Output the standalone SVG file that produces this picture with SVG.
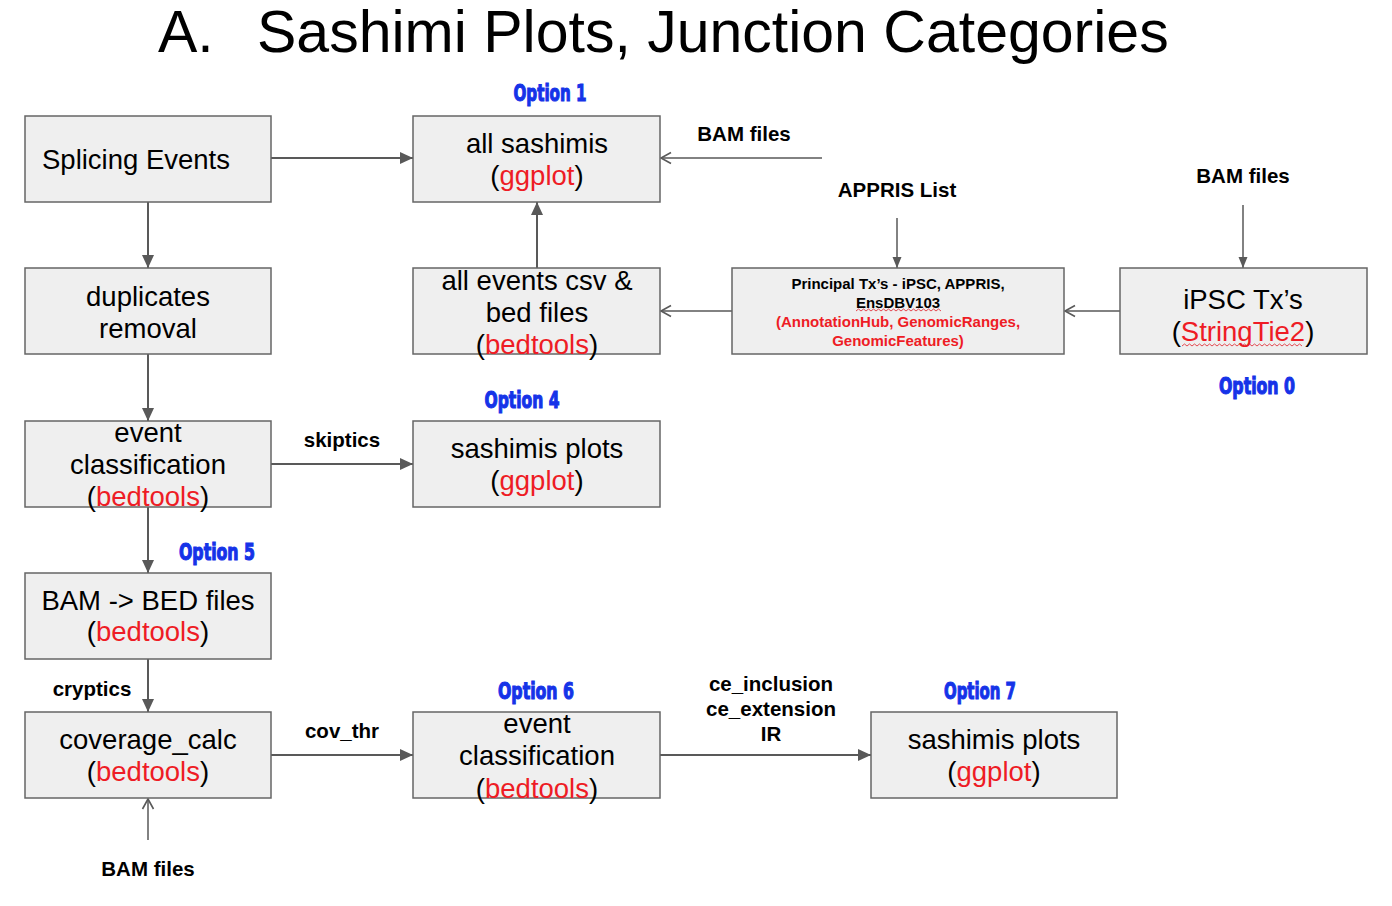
<svg xmlns="http://www.w3.org/2000/svg" width="1392" height="906" viewBox="0 0 1392 906">
<style>
.box{fill:#efefef;stroke:#666;stroke-width:1.5}
.t{font-family:"Liberation Sans",Arial,sans-serif;font-size:27.5px;fill:#000;text-anchor:middle}
.r{fill:#ee1c25}
.lbl{font-family:"Liberation Sans",Arial,sans-serif;font-size:20.5px;font-weight:bold;fill:#000;text-anchor:middle}
.opt{font-family:"Liberation Sans Narrow","DejaVu Sans Condensed","Liberation Sans",sans-serif;font-size:23px;font-weight:bold;fill:#1533e8;stroke:#1533e8;stroke-width:1.1;text-anchor:middle}
.small{font-family:"Liberation Sans",Arial,sans-serif;font-size:15px;font-weight:bold;text-anchor:middle}
.c{fill:none;stroke:#595959;stroke-width:2}
.ct{fill:none;stroke:#595959;stroke-width:1.5}
.wave{fill:none;stroke:#e0202a;stroke-width:0.8}
</style>
<defs>
<marker id="af" markerUnits="userSpaceOnUse" markerWidth="14" markerHeight="14" viewBox="0 0 14 14" refX="13" refY="7" orient="auto">
<path d="M0,1 L13,7 L0,13 z" fill="#595959"/>
</marker>
<marker id="ao" markerUnits="userSpaceOnUse" markerWidth="14" markerHeight="14" viewBox="0 0 14 14" refX="12" refY="7" orient="auto">
<path d="M2,1.5 L12,7 L2,12.5" fill="none" stroke="#595959" stroke-width="1.6"/>
</marker>
<marker id="as" markerUnits="userSpaceOnUse" markerWidth="12" markerHeight="12" viewBox="0 0 12 12" refX="11" refY="6" orient="auto">
<path d="M0,1.5 L11,6 L0,10.5 z" fill="#595959"/>
</marker>
</defs>
<rect width="1392" height="906" fill="#fff"/>

<g id="title" font-family="'Liberation Sans',Arial,sans-serif" font-size="59">
<text x="158" y="52">A.</text>
<text x="257" y="52">Sashimi Plots, Junction Categories</text>
</g>

<g id="connectors">
<line class="c" x1="271" y1="158" x2="413" y2="158" marker-end="url(#af)"/>
<line class="ct" x1="822" y1="158" x2="661" y2="158" marker-end="url(#ao)"/>
<line class="c" x1="537" y1="268" x2="537" y2="202" marker-end="url(#af)"/>
<line class="ct" x1="732" y1="311" x2="661" y2="311" marker-end="url(#ao)"/>
<line class="ct" x1="1120" y1="311" x2="1065" y2="311" marker-end="url(#ao)"/>
<line class="ct" x1="897" y1="218" x2="897" y2="268" marker-end="url(#as)"/>
<line class="ct" x1="1243" y1="205" x2="1243" y2="268" marker-end="url(#as)"/>
<line class="c" x1="148" y1="202" x2="148" y2="268" marker-end="url(#af)"/>
<line class="c" x1="148" y1="354" x2="148" y2="421" marker-end="url(#af)"/>
<line class="c" x1="271" y1="464" x2="413" y2="464" marker-end="url(#af)"/>
<line class="c" x1="148" y1="507" x2="148" y2="573" marker-end="url(#af)"/>
<line class="c" x1="148" y1="659" x2="148" y2="712" marker-end="url(#af)"/>
<line class="c" x1="271" y1="755" x2="413" y2="755" marker-end="url(#af)"/>
<line class="c" x1="660" y1="755" x2="871" y2="755" marker-end="url(#af)"/>
<line class="ct" x1="148" y1="840" x2="148" y2="799" marker-end="url(#ao)"/>
<text class="lbl" x="744" y="141">BAM files</text>
<text class="lbl" x="897" y="197">APPRIS List</text>
<text class="lbl" x="1243" y="183">BAM files</text>
<text class="lbl" x="342" y="447">skiptics</text>
<text class="lbl" x="92" y="696">cryptics</text>
<text class="lbl" x="342" y="738">cov_thr</text>
<text class="lbl" x="771" y="691">ce_inclusion</text>
<text class="lbl" x="771" y="716">ce_extension</text>
<text class="lbl" x="771" y="741">IR</text>
<text class="lbl" x="148" y="876">BAM files</text>
</g>

<g id="options">
<text class="opt" x="550" y="101" textLength="73" lengthAdjust="spacingAndGlyphs">Option 1</text>
<text class="opt" x="522" y="408" textLength="75" lengthAdjust="spacingAndGlyphs">Option 4</text>
<text class="opt" x="217" y="560" textLength="76" lengthAdjust="spacingAndGlyphs">Option 5</text>
<text class="opt" x="1257" y="394" textLength="76" lengthAdjust="spacingAndGlyphs">Option 0</text>
<text class="opt" x="536" y="699" textLength="76" lengthAdjust="spacingAndGlyphs">Option 6</text>
<text class="opt" x="980" y="699" textLength="72" lengthAdjust="spacingAndGlyphs">Option 7</text>
</g>

<g id="splicing-events">
<rect class="box" x="25" y="116" width="246" height="86"/>
<text class="t" x="42" y="169" style="text-anchor:start">Splicing Events</text>
</g>

<g id="all-sashimis">
<rect class="box" x="413" y="116" width="247" height="86"/>
<text class="t" x="537" y="153">all sashimis</text>
<text class="t" x="537" y="185">(<tspan class="r">ggplot</tspan>)</text>
</g>

<g id="duplicates-removal">
<rect class="box" x="25" y="268" width="246" height="86"/>
<text class="t" x="148" y="306">duplicates</text>
<text class="t" x="148" y="338">removal</text>
</g>

<g id="all-events">
<rect class="box" x="413" y="268" width="247" height="86"/>
<text class="t" x="537" y="290">all events csv &amp;</text>
<text class="t" x="537" y="322">bed files</text>
<text class="t" x="537" y="354">(<tspan class="r">bedtools</tspan>)</text>
</g>

<g id="principal-tx">
<rect class="box" x="732" y="268" width="332" height="86"/>
<text class="small" x="898" y="289">Principal Tx’s - iPSC, APPRIS,</text>
<text class="small" x="898" y="308">EnsDBV103</text>
<path class="wave" d="M856,311 l2.5,-2 l2.5,2 l2.5,-2 l2.5,2 l2.5,-2 l2.5,2 l2.5,-2 l2.5,2 l2.5,-2 l2.5,2 l2.5,-2 l2.5,2 l2.5,-2 l2.5,2 l2.5,-2 l2.5,2 l2.5,-2 l2.5,2 l2.5,-2 l2.5,2 l2.5,-2 l2.5,2 l2.5,-2 l2.5,2 l2.5,-2 l2.5,2 l2.5,-2 l2.5,2 l2.5,-2 l2.5,2 l2.5,-2 l2.5,2 l2.5,-2 l2.5,2"/>
<text class="small r" x="898" y="327">(AnnotationHub, GenomicRanges,</text>
<text class="small r" x="898" y="346">GenomicFeatures)</text>
</g>

<g id="ipsc-tx">
<rect class="box" x="1120" y="268" width="247" height="86"/>
<text class="t" x="1243" y="309">iPSC Tx’s</text>
<text class="t" x="1243" y="341">(<tspan class="r">StringTie2</tspan>)</text>
<path class="wave" d="M1182,346 l2.5,-2 l2.5,2 l2.5,-2 l2.5,2 l2.5,-2 l2.5,2 l2.5,-2 l2.5,2 l2.5,-2 l2.5,2 l2.5,-2 l2.5,2 l2.5,-2 l2.5,2 l2.5,-2 l2.5,2 l2.5,-2 l2.5,2 l2.5,-2 l2.5,2 l2.5,-2 l2.5,2 l2.5,-2 l2.5,2 l2.5,-2 l2.5,2 l2.5,-2 l2.5,2 l2.5,-2 l2.5,2 l2.5,-2 l2.5,2 l2.5,-2 l2.5,2 l2.5,-2 l2.5,2 l2.5,-2 l2.5,2 l2.5,-2 l2.5,2 l2.5,-2 l2.5,2 l2.5,-2 l2.5,2 l2.5,-2 l2.5,2 l2.5,-2 l2.5,2"/>
</g>

<g id="event-classification-1">
<rect class="box" x="25" y="421" width="246" height="86"/>
<text class="t" x="148" y="442">event</text>
<text class="t" x="148" y="474">classification</text>
<text class="t" x="148" y="506">(<tspan class="r">bedtools</tspan>)</text>
</g>

<g id="sashimis-plots-4">
<rect class="box" x="413" y="421" width="247" height="86"/>
<text class="t" x="537" y="458">sashimis plots</text>
<text class="t" x="537" y="490">(<tspan class="r">ggplot</tspan>)</text>
</g>

<g id="bam-bed">
<rect class="box" x="25" y="573" width="246" height="86"/>
<text class="t" x="148" y="610">BAM -&gt; BED files</text>
<text class="t" x="148" y="641">(<tspan class="r">bedtools</tspan>)</text>
</g>

<g id="coverage-calc">
<rect class="box" x="25" y="712" width="246" height="86"/>
<text class="t" x="148" y="749">coverage_calc</text>
<text class="t" x="148" y="781">(<tspan class="r">bedtools</tspan>)</text>
</g>

<g id="event-classification-2">
<rect class="box" x="413" y="712" width="247" height="86"/>
<text class="t" x="537" y="733">event</text>
<text class="t" x="537" y="765">classification</text>
<text class="t" x="537" y="798">(<tspan class="r">bedtools</tspan>)</text>
</g>

<g id="sashimis-plots-7">
<rect class="box" x="871" y="712" width="246" height="86"/>
<text class="t" x="994" y="749">sashimis plots</text>
<text class="t" x="994" y="781">(<tspan class="r">ggplot</tspan>)</text>
</g>
</svg>
